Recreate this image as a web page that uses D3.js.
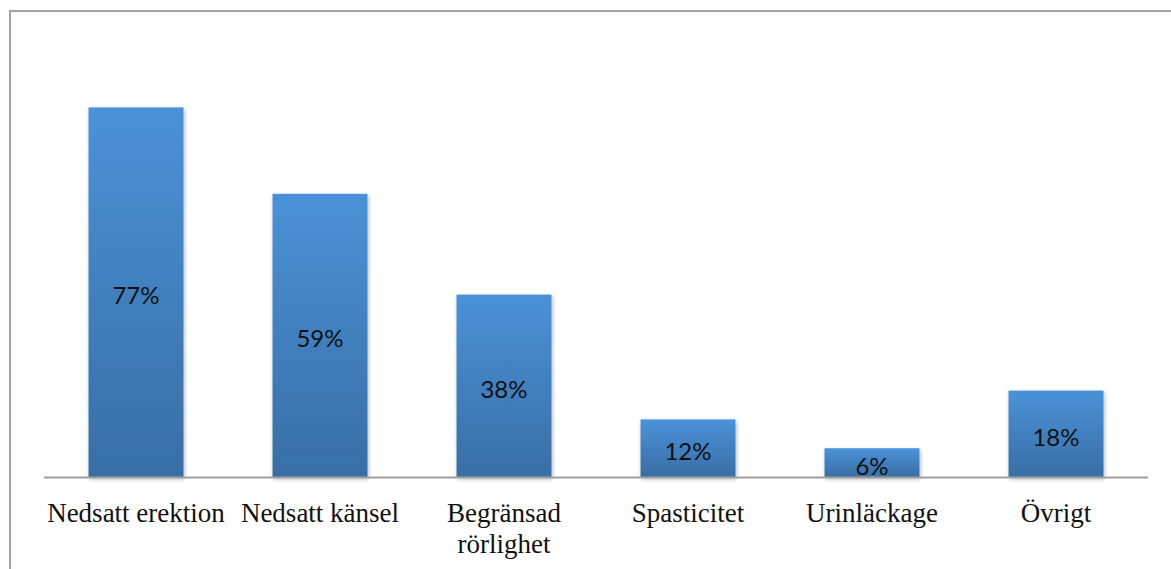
<!DOCTYPE html>
<html>
<head>
<meta charset="utf-8">
<script src="https://cdn.jsdelivr.net/npm/d3@7"></script>
<style>
  body { margin: 0; background: #fff; }
  svg { display: block; }
</style>
</head>
<body>
<svg id="chart" width="1171" height="569"></svg>
<script>
const categories = ['Nedsatt erektion', 'Nedsatt känsel', 'Begränsad rörlighet', 'Spasticitet', 'Urinläckage', 'Övrigt'];
const catLines = [['Nedsatt erektion'], ['Nedsatt känsel'], ['Begränsad', 'rörlighet'], ['Spasticitet'], ['Urinläckage'], ['Övrigt']];
const values = [0.77, 0.59, 0.38, 0.12, 0.06, 0.18];
const valueLabels = ['77%', '59%', '38%', '12%', '6%', '18%'];

const width = 1171, height = 569;
const svg = d3.select('#chart');

// chart frame (right and bottom edges fall outside the picture)
svg.append('path')
  .attr('d', `M10,${height + 5}V11H${width + 5}`)
  .attr('fill', 'none')
  .attr('stroke', '#a3a3a3')
  .attr('stroke-width', 2);

const defs = svg.append('defs');
const grad = defs.append('linearGradient')
  .attr('id', 'barGrad').attr('x1', 0).attr('y1', 0).attr('x2', 0).attr('y2', 1);
grad.append('stop').attr('offset', '0%').attr('stop-color', '#4a92d8');
grad.append('stop').attr('offset', '100%').attr('stop-color', '#386ea6');
const shadow = defs.append('filter').attr('id', 'shadow')
  .attr('x', '-20%').attr('y', '-20%').attr('width', '140%').attr('height', '140%');
shadow.append('feDropShadow')
  .attr('dx', 1).attr('dy', 2).attr('stdDeviation', 2)
  .attr('flood-color', '#000').attr('flood-opacity', 0.3);

const x = d3.scaleBand().domain(categories).range([44, 1148]).paddingInner(0.484).paddingOuter(0.242);
const y = d3.scaleLinear().domain([0, 0.9]).range([477, 45]);

const bars = svg.append('g');
bars.selectAll('rect')
  .data(values)
  .join('rect')
  .attr('x', (d, i) => x(categories[i]))
  .attr('y', d => y(d))
  .attr('width', x.bandwidth())
  .attr('height', d => y(0) - y(d))
  .attr('fill', 'url(#barGrad)')
  .attr('filter', 'url(#shadow)');

// baseline
svg.append('line')
  .attr('x1', 44).attr('x2', 1148)
  .attr('y1', y(0) + 0.5).attr('y2', y(0) + 0.5)
  .attr('stroke', '#a0a0a0').attr('stroke-width', 2);

// value labels
svg.append('g').selectAll('text')
  .data(values)
  .join('text')
  .attr('x', (d, i) => x(categories[i]) + x.bandwidth() / 2)
  .attr('y', d => (y(d) + y(0)) / 2 + 12)
  .attr('text-anchor', 'middle')
  .attr('font-family', 'Lato, "Open Sans", sans-serif')
  .attr('font-size', 24)
  .attr('fill', '#111')
  .text((d, i) => valueLabels[i]);

// category labels
const cat = svg.append('g').selectAll('text')
  .data(categories)
  .join('text')
  .attr('x', d => x(d) + x.bandwidth() / 2)
  .attr('y', 522)
  .attr('text-anchor', 'middle')
  .attr('font-family', '"Liberation Serif", "Times New Roman", serif')
  .attr('font-size', 27)
  .attr('fill', '#111');
cat.selectAll('tspan')
  .data((d, i) => catLines[i])
  .join('tspan')
  .attr('x', function () { return d3.select(this.parentNode).attr('x'); })
  .attr('dy', (d, i) => i === 0 ? 0 : 31)
  .text(d => d);
</script>
</body>
</html>
